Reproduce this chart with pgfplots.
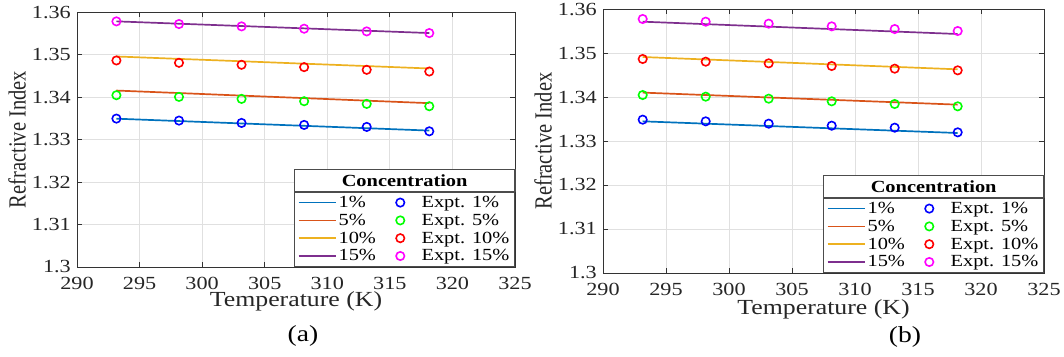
\documentclass[border=0pt]{standalone}
\usepackage{pgfplots}
\pgfplotsset{compat=1.18}
\usepackage{fontspec}
\setmainfont{Liberation Serif}[FakeStretch=1.2]
\newfontfamily\ylabfont{Liberation Serif}
\usetikzlibrary{calc}
\definecolor{c1}{rgb}{0,0.447,0.741}
\definecolor{c2}{rgb}{0.85,0.325,0.098}
\definecolor{c3}{rgb}{0.929,0.694,0.125}
\definecolor{c4}{rgb}{0.494,0.184,0.556}
\definecolor{m1}{rgb}{0,0,1}
\definecolor{m2}{rgb}{0,1,0}
\definecolor{m3}{rgb}{1,0,0}
\definecolor{m4}{rgb}{1,0,1}
\pgfplotsset{
  myax/.style={
    scale only axis,
    xmin=290, xmax=325, ymin=1.3, ymax=1.36,
    xtick={290,295,300,305,310,315,320,325},
    ytick={1.30,1.31,1.32,1.33,1.34,1.35,1.36},
    tick align=inside,
    major tick length=5pt,
    grid=major,
    grid style={color=black!12, line width=0.8pt},
    axis line style={color=black!80, line width=0.9pt},
    tick style={color=black!80, line width=0.9pt},
    tick label style={font=\fontsize{18.5}{20}\selectfont, color=black!85, inner sep=1pt},
    xticklabel style={anchor=center, yshift=-16pt},
    yticklabel style={anchor=east, xshift=-5pt},
    /pgf/number format/assume math mode=true,
    yticklabel style={/pgf/number format/fixed, /pgf/number format/precision=2},
    xlabel={Temperature (K)},
    ylabel={Refractive Index},
    xlabel style={font=\fontsize{21.5}{23}\selectfont, color=black!85, inner sep=0.5pt,
      at={([yshift=-34.5pt]rel axis cs:0.5,0)}, anchor=center},
    ylabel style={font=\ylabfont\fontsize{20.5}{22}\selectfont, color=black!85, inner sep=1pt,
      at={([xshift=-60pt]rel axis cs:0,0.5)}, anchor=center, yscale=1.2},
    legend columns=2,
    legend cell align=left,
    legend style={at={(rel axis cs:1,0)}, anchor=south east, draw=black!70,
      line width=1.2pt, font=\fontsize{17}{19}\selectfont, row sep=1pt,
      /tikz/every even column/.append style={column sep=3pt}},
    legend image code/.code={\draw[mark repeat=2,mark phase=2,##1] plot coordinates {(0pt,0pt) (18.5pt,0pt) (37pt,0pt)};},
  },
  fitl/.style={line width=1.7pt, color=#1, no marks},
  expm/.style={only marks, mark=o, mark size=4.2pt, line width=1.6pt, color=#1,
    legend image code/.code={\path (0pt,0pt) (37pt,0pt); \draw[##1] plot coordinates {(18.5pt,0pt)};}},
}
\begin{document}
\begin{tikzpicture}
\path[use as bounding box] (0,0) rectangle (1064pt,-356pt);
% ---------------- panel (a)
\begin{axis}[myax, at={(77pt,-267pt)}, anchor=south west, width=438pt, height=255pt,
  legend style={name=legA}]
\addplot[fitl=c1] coordinates {(293.15,1.3349) (298.15,1.33434) (303.15,1.33378) (308.15,1.33322) (313.15,1.33266) (318.15,1.3321)};
\addlegendentry{1\%}
\addplot[expm=m1] coordinates {(293.15,1.33492) (298.15,1.33445) (303.15,1.3339) (308.15,1.33343) (313.15,1.33296) (318.15,1.33193)};
\addlegendentry{Expt. 1\%}
\addplot[fitl=c2] coordinates {(293.15,1.34152) (298.15,1.34093) (303.15,1.34033) (308.15,1.33974) (313.15,1.33914) (318.15,1.33855)};
\addlegendentry{5\%}
\addplot[expm=m2] coordinates {(293.15,1.34042) (298.15,1.34003) (303.15,1.33956) (308.15,1.33901) (313.15,1.33838) (318.15,1.33783)};
\addlegendentry{Expt. 5\%}
\addplot[fitl=c3] coordinates {(293.15,1.34954) (298.15,1.34897) (303.15,1.34841) (308.15,1.34784) (313.15,1.34728) (318.15,1.34671)};
\addlegendentry{10\%}
\addplot[expm=m3] coordinates {(293.15,1.3486) (298.15,1.34805) (303.15,1.34758) (308.15,1.34703) (313.15,1.3464) (318.15,1.346)};
\addlegendentry{Expt. 10\%}
\addplot[fitl=c4] coordinates {(293.15,1.3578) (298.15,1.35725) (303.15,1.3567) (308.15,1.35615) (313.15,1.3556) (318.15,1.35505)};
\addlegendentry{15\%}
\addplot[expm=m4] coordinates {(293.15,1.3578) (298.15,1.35717) (303.15,1.35662) (308.15,1.35607) (313.15,1.35544) (318.15,1.35505)};
\addlegendentry{Expt. 15\%}
\end{axis}
\path let \p1=(legA.north west), \p2=(legA.north east) in
  node[draw=black!70, line width=1.2pt, fill=white, anchor=south west, outer sep=0pt,
       minimum width=\x2-\x1, minimum height=22pt, inner sep=0pt,
       font=\bfseries\fontsize{17}{19}\selectfont] at (legA.north west) {Concentration};
\node[font=\fontsize{23}{25}\selectfont] at (303pt,-336pt) {(a)};
% ---------------- panel (b)
\begin{axis}[myax, at={(603pt,-273pt)}, anchor=south west, width=441pt, height=264pt,
  legend style={name=legB}, xlabel style={at={([yshift=-36.5pt]rel axis cs:0.5,0)}}]
\addplot[fitl=c1] coordinates {(293.15,1.33447) (298.15,1.33394) (303.15,1.33341) (308.15,1.33288) (313.15,1.33235) (318.15,1.33182)};
\addlegendentry{1\%}
\addplot[expm=m1] coordinates {(293.15,1.33485) (298.15,1.33447) (303.15,1.33394) (308.15,1.33348) (313.15,1.33303) (318.15,1.33197)};
\addlegendentry{Expt. 1\%}
\addplot[fitl=c2] coordinates {(293.15,1.3410) (298.15,1.34045) (303.15,1.3399) (308.15,1.33936) (313.15,1.33881) (318.15,1.33826)};
\addlegendentry{5\%}
\addplot[expm=m2] coordinates {(293.15,1.34045) (298.15,1.34008) (303.15,1.33962) (308.15,1.33902) (313.15,1.33841) (318.15,1.33788)};
\addlegendentry{Expt. 5\%}
\addplot[fitl=c3] coordinates {(293.15,1.34909) (298.15,1.34853) (303.15,1.34797) (308.15,1.34741) (313.15,1.34685) (318.15,1.34629)};
\addlegendentry{10\%}
\addplot[expm=m3] coordinates {(293.15,1.34864) (298.15,1.34803) (303.15,1.34765) (308.15,1.34705) (313.15,1.34644) (318.15,1.34606)};
\addlegendentry{Expt. 10\%}
\addplot[fitl=c4] coordinates {(293.15,1.35712) (298.15,1.35656) (303.15,1.356) (308.15,1.35544) (313.15,1.35488) (318.15,1.35432)};
\addlegendentry{15\%}
\addplot[expm=m4] coordinates {(293.15,1.35773) (298.15,1.35712) (303.15,1.35667) (308.15,1.35606) (313.15,1.35545) (318.15,1.355)};
\addlegendentry{Expt. 15\%}
\end{axis}
\path let \p1=(legB.north west), \p2=(legB.north east) in
  node[draw=black!70, line width=1.2pt, fill=white, anchor=south west, outer sep=0pt,
       minimum width=\x2-\x1, minimum height=22pt, inner sep=0pt,
       font=\bfseries\fontsize{17}{19}\selectfont] at (legB.north west) {Concentration};
\node[font=\fontsize{23}{25}\selectfont] at (905pt,-337pt) {(b)};
\end{tikzpicture}
\end{document}
